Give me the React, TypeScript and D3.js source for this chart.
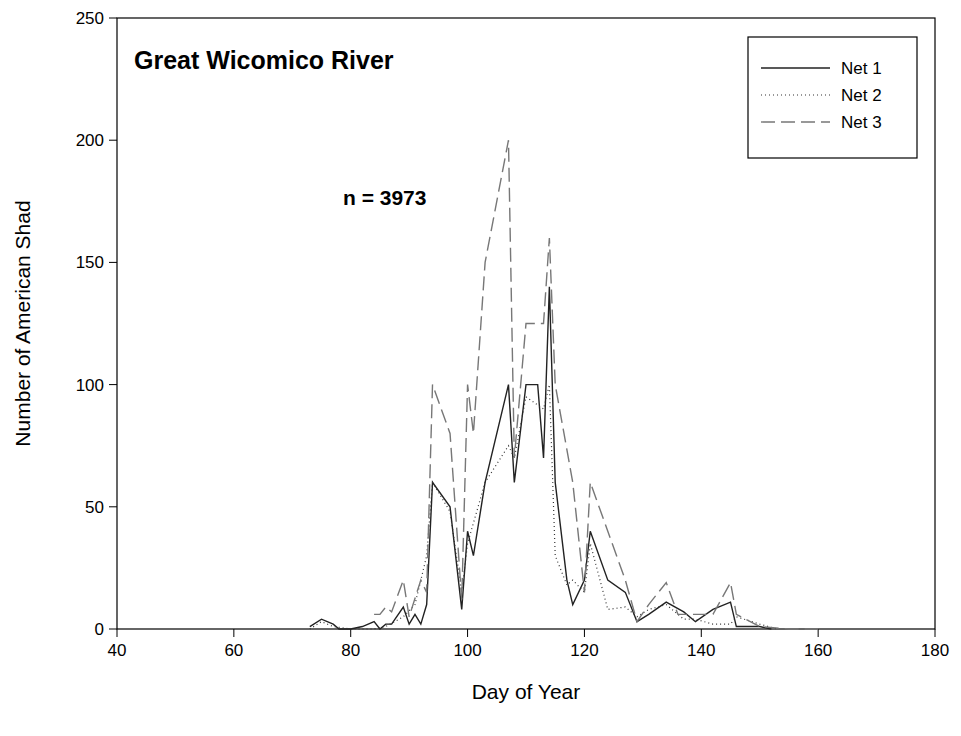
import React from "react";
import * as d3 from "d3";

const DAYS1 = [73,75,77,78,80,82,84,85,86,87,89,90,91,92,93,94,97,99,100,101,103,107,108,110,112,113,114,115,117,118,120,121,124,127,129,131,134,137,139,142,145,146,150,152];
const NET1 = [1,4,2,0,0,1,3,0,2,2,9,2,6,2,10,60,50,8,40,30,60,100,60,100,100,70,140,60,20,10,20,40,20,15,3,6,11,7,3,8,11,1,1,0];
const DAYS2 = [73,75,77,80,84,86,89,91,93,94,97,99,100,103,107,108,110,113,114,115,117,118,120,121,124,127,129,131,134,137,139,142,145,146,150,153];
const NET2 = [0,3,1,0,0,1,5,10,30,60,48,15,35,60,75,70,95,90,100,30,18,20,15,35,8,9,5,8,10,4,4,2,2,5,2,0];
const DAYS3 = [84,85,86,87,89,90,92,93,94,97,99,100,101,103,107,108,110,113,114,115,118,120,121,124,127,129,131,134,136,139,142,145,146,150,155,160];
const NET3 = [6,6,9,7,20,5,20,15,100,80,12,100,80,150,200,70,125,125,160,100,60,15,60,40,20,3,10,19,6,6,6,19,6,1,0,0];
const X_TICKS = [40,60,80,100,120,140,160,180];
const Y_TICKS = [0,50,100,150,200,250];

const SERIES = [
  { name: "Net 1", days: DAYS1, vals: NET1, color: "#222", dash: "none", width: 1.4 },
  { name: "Net 2", days: DAYS2, vals: NET2, color: "#333", dash: "1,3", width: 1.2 },
  { name: "Net 3", days: DAYS3, vals: NET3, color: "#777", dash: "14,6", width: 1.4 },
];

const M = { left: 117, top: 18, right: 935, bottom: 629 };
const FONT = "Arial, 'Liberation Sans', sans-serif";

export default function App() {
  const x = d3.scaleLinear().domain([40, 180]).range([M.left, M.right]);
  const y = d3.scaleLinear().domain([0, 250]).range([M.bottom, M.top]);
  const line = d3.line<[number, number]>().x(d => x(d[0])).y(d => y(d[1]));

  return (
    <svg width={961} height={736} style={{ position: "absolute", left: 0, top: 0, fontFamily: FONT }}>
      <rect x={M.left} y={M.top} width={M.right - M.left} height={M.bottom - M.top} fill="none" stroke="#000" strokeWidth={1.2} />
      {X_TICKS.map(t => (
        <g key={t}>
          <line x1={x(t)} x2={x(t)} y1={M.bottom} y2={M.bottom + 8} stroke="#000" />
          <text x={x(t)} y={M.bottom + 27} textAnchor="middle" fontSize={17}>{t}</text>
        </g>
      ))}
      {Y_TICKS.map(t => (
        <g key={t}>
          <line x1={M.left - 8} x2={M.left} y1={y(t)} y2={y(t)} stroke="#000" />
          <text x={M.left - 13} y={y(t) + 6} textAnchor="end" fontSize={17}>{t}</text>
        </g>
      ))}
      <text x={(M.left + M.right) / 2} y={699} textAnchor="middle" fontSize={21}>Day of Year</text>
      <text transform={`translate(30,${(M.top + M.bottom) / 2}) rotate(-90)`} textAnchor="middle" fontSize={21}>Number of American Shad</text>
      {SERIES.map(s => (
        <path key={s.name} d={line(s.days.map((d, i) => [d, s.vals[i]]))!} fill="none"
          stroke={s.color} strokeWidth={s.width} strokeDasharray={s.dash} />
      ))}
      <text x={134} y={69} fontSize={25} fontWeight="bold">Great Wicomico River</text>
      <text x={343} y={205} fontSize={21} fontWeight="bold">n = 3973</text>
      <rect x={748} y={37} width={169} height={121} fill="#fff" stroke="#000" strokeWidth={1.2} />
      {SERIES.map((s, i) => (
        <g key={s.name}>
          <line x1={761} x2={830} y1={68 + i * 27} y2={68 + i * 27} stroke={s.color} strokeWidth={s.width} strokeDasharray={s.dash} />
          <text x={841} y={74 + i * 27} fontSize={17}>{s.name}</text>
        </g>
      ))}
    </svg>
  );
}
